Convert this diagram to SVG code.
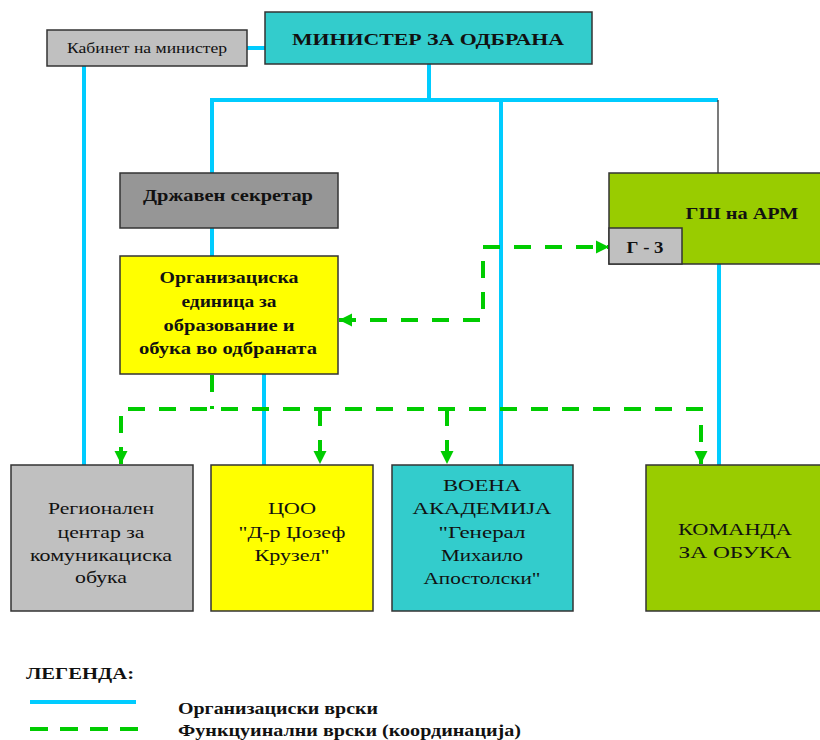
<svg xmlns="http://www.w3.org/2000/svg" width="820" height="740" viewBox="0 0 820 740">
<defs>
<style>
.box{stroke:#333333;stroke-width:1.5}
.teal{fill:#33cccc}.lgray{fill:#c0c0c0}.dgray{fill:#969696}.yel{fill:#ffff00}.grn{fill:#99cc00}
.org{stroke:#00ccff;stroke-width:4;fill:none}
.fun{stroke:#00cc00;stroke-width:4;fill:none;stroke-dasharray:17 14}
.thin{stroke:#222222;stroke-width:1.2;fill:none}
text{font-family:"Liberation Serif","Times New Roman",serif;fill:#111111;text-anchor:middle}
.b{font-weight:bold;font-size:17px}
.r{font-size:17px}
.s{font-size:15px}
.leg{text-anchor:start;font-weight:bold;font-size:16px}
</style>
<marker id="ah" viewBox="0 0 10 10" refX="10" refY="5" markerWidth="3.3" markerHeight="3.3" orient="auto-start-reverse" markerUnits="strokeWidth">
<path d="M0,0 L10,5 L0,10 Z" fill="#00cc00"/>
</marker>
</defs>

<g id="connectors">
<path class="org" d="M247,48 H265"/>
<path class="org" d="M429,64 V100"/>
<path class="org" d="M212,173 V100 H718"/>
<path class="thin" d="M718,100 V173"/>
<path class="org" d="M84,66 V465"/>
<path class="org" d="M501,100 V465"/>
<path class="org" d="M212,228 V256"/>
<path class="org" d="M264,374 V465"/>
<path class="org" d="M719,264 V465"/>
<path class="fun" d="M212,375 V409"/>
<path class="fun" d="M121,464 V409 H701 V464" marker-start="url(#ah)" marker-end="url(#ah)"/>
<path class="fun" d="M320,409 V464" marker-end="url(#ah)"/>
<path class="fun" d="M447,409 V464" marker-end="url(#ah)"/>
<path class="fun" d="M339,320 H483 V247 H609" marker-start="url(#ah)" marker-end="url(#ah)"/>
</g>

<g id="kabinet">
<rect class="box lgray" x="47" y="30" width="200" height="36"/>
<text class="s" x="147" y="53" textLength="160" lengthAdjust="spacingAndGlyphs">Кабинет на министер</text>
</g>
<g id="minister">
<rect class="box teal" x="265" y="12" width="327" height="52"/>
<text class="b" x="428" y="45" font-size="19" textLength="272" lengthAdjust="spacingAndGlyphs">МИНИСТЕР ЗА ОДБРАНА</text>
</g>
<g id="drzaven">
<rect class="box dgray" x="120" y="173" width="218" height="55"/>
<text class="b" x="228" y="201" textLength="170" lengthAdjust="spacingAndGlyphs">Државен секретар</text>
</g>
<g id="orgunit">
<rect class="box yel" x="120" y="256" width="218" height="118"/>
<text class="b" x="229" y="283" textLength="139" lengthAdjust="spacingAndGlyphs">Организациска</text>
<text class="b" x="229" y="307" textLength="95" lengthAdjust="spacingAndGlyphs">единица за</text>
<text class="b" x="229" y="331" textLength="131" lengthAdjust="spacingAndGlyphs">образование и</text>
<text class="b" x="228" y="354" textLength="178" lengthAdjust="spacingAndGlyphs">обука во одбраната</text>
</g>
<g id="gsh">
<rect class="box grn" x="609" y="173" width="216" height="91"/>
<text class="b" x="742" y="219" textLength="113" lengthAdjust="spacingAndGlyphs">ГШ на АРМ</text>
</g>
<g id="g3">
<rect class="box lgray" x="609" y="228" width="73" height="36"/>
<text class="b" x="645" y="253" textLength="37" lengthAdjust="spacingAndGlyphs">Г - 3</text>
</g>
<g id="regionalen">
<rect class="box lgray" x="11" y="465" width="182" height="146"/>
<text class="r" x="101" y="514" textLength="106" lengthAdjust="spacingAndGlyphs">Регионален</text>
<text class="r" x="101" y="538" textLength="87" lengthAdjust="spacingAndGlyphs">центар за</text>
<text class="r" x="101" y="561" textLength="142" lengthAdjust="spacingAndGlyphs">комуникациска</text>
<text class="r" x="101" y="583" textLength="52" lengthAdjust="spacingAndGlyphs">обука</text>
</g>
<g id="coo">
<rect class="box yel" x="211" y="465" width="162" height="146"/>
<text class="r" x="292" y="514" textLength="48" lengthAdjust="spacingAndGlyphs">ЦОО</text>
<text class="r" x="292" y="538" textLength="107" lengthAdjust="spacingAndGlyphs">"Д-р Џозеф</text>
<text class="r" x="292" y="561" textLength="75" lengthAdjust="spacingAndGlyphs">Крузел"</text>
</g>
<g id="voena">
<rect class="box teal" x="392" y="465" width="181" height="146"/>
<text class="r" x="482" y="491" textLength="78" lengthAdjust="spacingAndGlyphs">ВОЕНА</text>
<text class="r" x="482" y="514" textLength="139" lengthAdjust="spacingAndGlyphs">АКАДЕМИЈА</text>
<text class="r" x="482" y="538" textLength="87" lengthAdjust="spacingAndGlyphs">"Генерал</text>
<text class="r" x="482" y="561" textLength="82" lengthAdjust="spacingAndGlyphs">Михаило</text>
<text class="r" x="482" y="584" textLength="117" lengthAdjust="spacingAndGlyphs">Апостолски"</text>
</g>
<g id="komanda">
<rect class="box grn" x="646" y="465" width="180" height="146"/>
<text class="r" x="735" y="535" textLength="114" lengthAdjust="spacingAndGlyphs">КОМАНДА</text>
<text class="r" x="735" y="558" textLength="113" lengthAdjust="spacingAndGlyphs">ЗА ОБУКА</text>
</g>

<g id="legend">
<text class="leg" x="26" y="679" textLength="108" lengthAdjust="spacingAndGlyphs">ЛЕГЕНДА:</text>
<path class="org" d="M30,702 H136"/>
<path fill="none" stroke="#00cc00" stroke-width="4" stroke-dasharray="18 12" d="M30,729 H140"/>
<text class="leg" x="178" y="714" textLength="200" lengthAdjust="spacingAndGlyphs">Организациски врски</text>
<text class="leg" x="178" y="736" textLength="343" lengthAdjust="spacingAndGlyphs">Функцуинални врски (координација)</text>
</g>
</svg>
